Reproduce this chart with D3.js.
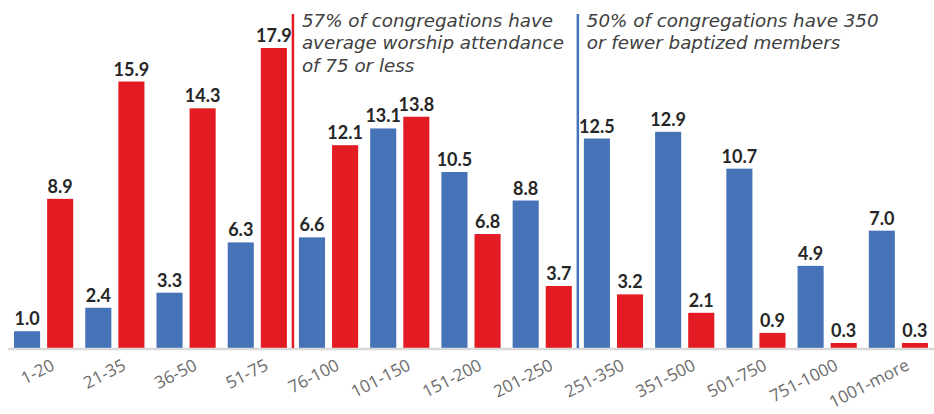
<!DOCTYPE html>
<html>
<head>
<meta charset="utf-8">
<script src="https://cdn.jsdelivr.net/npm/d3@7"></script>
<style>
  body { margin: 0; background: #fff; }
</style>
</head>
<body>
<div id="chart"></div>
<script>
const categories = ["1-20", "21-35", "36-50", "51-75", "76-100", "101-150", "151-200", "201-250", "251-350", "351-500", "501-750", "751-1000", "1001-more"];
const members = [1.0, 2.4, 3.3, 6.3, 6.6, 13.1, 10.5, 8.8, 12.5, 12.9, 10.7, 4.9, 7.0];
const attendance = [8.9, 15.9, 14.3, 17.9, 12.1, 13.8, 6.8, 3.7, 3.2, 2.1, 0.9, 0.3, 0.3];
const seriesKeys = ["members", "attendance"];
const notes = [
  { after: "51-75", key: "attendance", lines: ["57% of congregations have", "average worship attendance", "of 75 or less"] },
  { after: "201-250", key: "members", lines: ["50% of congregations have 350", "or fewer baptized members"] }
];

const width = 934, height = 414;
const colors = { members: "#4672B8", attendance: "#E31C23" };
const baseY = 348;

const svg = d3.select("#chart").append("svg")
  .attr("width", width)
  .attr("height", height);

const x0 = d3.scaleBand()
  .domain(categories)
  .range([8, 934]);

const x1 = d3.scaleBand()
  .domain(seriesKeys)
  .range([0, x0.bandwidth()])
  .paddingInner(0.212)
  .paddingOuter(0.182);

const y = d3.scaleLinear()
  .domain([0, 17.9])
  .range([baseY, 48]);

const rows = categories.map((c, i) => ({ cat: c, members: members[i], attendance: attendance[i] }));

const groups = svg.selectAll("g.cat")
  .data(rows)
  .join("g")
  .attr("class", "cat")
  .attr("transform", d => "translate(" + x0(d.cat) + ",0)");

groups.selectAll("rect")
  .data(d => seriesKeys.map(k => ({ key: k, value: d[k] })))
  .join("rect")
  .attr("x", d => x1(d.key))
  .attr("y", d => y(d.value))
  .attr("width", x1.bandwidth())
  .attr("height", d => baseY - y(d.value))
  .attr("fill", d => colors[d.key]);

groups.selectAll("text.val")
  .data(d => seriesKeys.map(k => ({ key: k, value: d[k] })))
  .join("text")
  .attr("class", "val")
  .attr("x", d => x1(d.key) + x1.bandwidth() / 2)
  .attr("y", d => y(d.value) - 6)
  .attr("text-anchor", "middle")
  .attr("font-family", "Lato, 'Open Sans', sans-serif")
  .attr("font-weight", "bold")
  .attr("font-size", 18)
  .attr("fill", "#262626")
  .text(d => d.value.toFixed(1));

// baseline
const xAxis = svg.append("g")
  .attr("transform", "translate(0," + baseY + ")")
  .call(d3.axisBottom(x0).tickSize(0).tickPadding(0));

xAxis.select(".domain")
  .attr("stroke", "#d9d9d9")
  .attr("stroke-width", 2.5)
  .attr("d", "M8,1H934");

xAxis.selectAll(".tick text")
  .attr("font-family", "'Open Sans', sans-serif")
  .attr("font-size", 17)
  .attr("fill", "#6b6b6b")
  .attr("text-anchor", "end")
  .attr("dy", null)
  .attr("transform", "translate(12,21) rotate(-27)");

// annotation lines and notes
notes.forEach(n => {
  const lx = x0(n.after) + x0.bandwidth();
  svg.append("line")
    .attr("x1", lx).attr("x2", lx)
    .attr("y1", 14).attr("y2", baseY)
    .attr("stroke", colors[n.key])
    .attr("stroke-width", 2.5);

  const t = svg.append("text")
    .attr("x", lx + 9)
    .attr("y", 27)
    .attr("font-family", "'DejaVu Sans', sans-serif")
    .attr("font-style", "italic")
    .attr("font-size", 18.3)
    .attr("fill", "#404040");

  t.selectAll("tspan")
    .data(n.lines)
    .join("tspan")
    .attr("x", lx + 9)
    .attr("dy", (d, i) => i === 0 ? 0 : 22.3)
    .text(d => d);
});
</script>
</body>
</html>
